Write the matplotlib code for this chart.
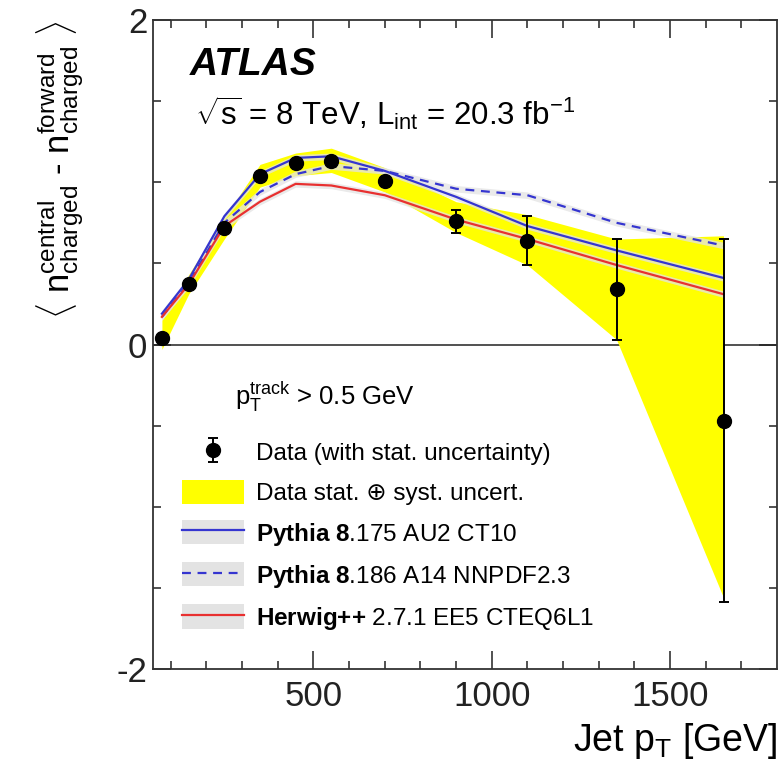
import matplotlib
matplotlib.use("Agg")
import matplotlib.pyplot as plt
from matplotlib.patches import Patch
from matplotlib.lines import Line2D
import numpy as np

plt.rcParams['font.family'] = ['Liberation Sans', 'DejaVu Sans']
plt.rcParams['mathtext.fontset'] = 'custom'
plt.rcParams['mathtext.rm'] = 'Liberation Sans'
plt.rcParams['mathtext.it'] = 'Liberation Sans:italic'
plt.rcParams['mathtext.bf'] = 'Liberation Sans:bold'
plt.rcParams['axes.unicode_minus'] = False

# ---------------- data ----------------
jet_pt = [75, 150, 250, 350, 450, 550, 700, 900, 1100, 1350, 1650]
data_y = [0.04, 0.37, 0.72, 1.04, 1.12, 1.13, 1.01, 0.76, 0.64, 0.34, -0.47]
data_stat = [0.01, 0.01, 0.01, 0.01, 0.01, 0.015, 0.02, 0.07, 0.15, 0.31, 1.12]
band_up = [0.15, 0.43, 0.78, 1.11, 1.18, 1.21, 1.09, 0.88, 0.80, 0.65, 0.67]
band_lo = [-0.03, 0.31, 0.65, 0.97, 1.04, 1.06, 0.94, 0.69, 0.49, 0.03, -1.56]
pythia_au2 = [0.19, 0.40, 0.79, 1.05, 1.15, 1.16, 1.07, 0.91, 0.73, 0.58, 0.41]
pythia_a14 = [0.17, 0.38, 0.75, 0.94, 1.05, 1.10, 1.07, 0.96, 0.92, 0.75, 0.61]
herwig_ee5 = [0.17, 0.37, 0.73, 0.88, 0.99, 0.98, 0.92, 0.77, 0.65, 0.49, 0.31]
mc_unc = 0.02

labels = ["Data (with stat. uncertainty)",
          "Data stat. \u2295 syst. uncert.",
          r"$\mathbf{Pythia\ 8}$.175 AU2 CT10",
          r"$\mathbf{Pythia\ 8}$.186 A14 NNPDF2.3",
          r"$\mathbf{Herwig{+}{+}}$ 2.7.1 EE5 CTEQ6L1"]

yellow = '#ffff00'
grey = '#e3e3e3'
blue = '#3535d0'
red = '#e83030'

fig = plt.figure(figsize=(7.82, 7.77), dpi=100)
ax = fig.add_axes([153/782, 108/777, 624/782, 649/777])

x = np.array(jet_pt)
ax.fill_between(x, band_lo, band_up, color=yellow, lw=0, zorder=1)

mcs = [(pythia_au2, '-'), (pythia_a14, '--'), (herwig_ee5, '-')]
colors = [blue, blue, red]
for (vals, ls), c in zip(mcs, colors):
    v = np.array(vals)
    ax.fill_between(x, v - mc_unc, v + mc_unc, color=grey, alpha=0.75, lw=0, zorder=2)
    ax.plot(x, v, ls=ls, color=c, lw=1.6, zorder=3, dashes=(4, 3) if ls == '--' else (None, None))

eb = ax.errorbar(x, data_y, yerr=data_stat, fmt='o', color='black', ms=10,
                 elinewidth=1.4, capsize=3.5, capthick=1.4, zorder=5)

ax.axhline(0, color='#222222', lw=1.1, zorder=0.5)

ax.set_xlim(50, 1800)
ax.set_ylim(-2, 2)
ax.set_xticks([500, 1000, 1500])
ax.set_xticks(np.arange(100, 1800, 100), minor=True)
ax.set_yticks([-2, 0, 2])
ax.set_yticks(np.arange(-1.5, 2.0, 0.5), minor=True)
ax.tick_params(which='both', direction='in', top=True, right=True, width=1.1,
               labelsize=25, colors='#222222')
ax.tick_params(which='major', length=13, pad=8)
ax.tick_params(which='minor', length=6)
ax.tick_params(axis='y', which='major', pad=4)
for s in ax.spines.values():
    s.set_linewidth(1.3)
    s.set_color('#333333')

ax.set_xlabel(r"Jet $\mathrm{p}_{\mathrm{T}}$ [GeV]", fontsize=27, loc='right', labelpad=6)
ax.set_ylabel(r"$\langle$ $\mathrm{n}^{\mathrm{central}}_{\mathrm{charged}}$ - "
              r"$\mathrm{n}^{\mathrm{forward}}_{\mathrm{charged}}$ $\rangle$",
              fontsize=25, loc='top', labelpad=22)

ax.text(37/624, 1 - 55/649, "ATLAS", transform=ax.transAxes, fontsize=28,
        fontweight='bold', style='italic', ha='left', va='baseline')
ax.text(42/624, 1 - 105/649,
        r"$\sqrt{\mathrm{s}}$ = 8 TeV, $\mathrm{L}_{\mathrm{int}}$ = 20.3 fb$^{\mathrm{-1}}$",
        transform=ax.transAxes, fontsize=22.5, ha='left', va='baseline')
ax.text((235 - 153)/624, (669 - 405)/649, r"$\mathrm{p}_{\mathrm{T}}^{\mathrm{track}}$ > 0.5 GeV",
        transform=ax.transAxes, fontsize=18.5, ha='left', va='baseline')

h_band = Patch(facecolor=yellow, edgecolor='none')
h1 = (Patch(facecolor=grey, edgecolor='none'), Line2D([], [], color=blue, lw=1.6))
h2 = (Patch(facecolor=grey, edgecolor='none'), Line2D([], [], color=blue, lw=1.6, ls='--', dashes=(4, 3)))
h3 = (Patch(facecolor=grey, edgecolor='none'), Line2D([], [], color=red, lw=1.6))
leg = ax.legend([eb, h_band, h1, h2, h3], labels, loc='upper left',
                bbox_to_anchor=((182 - 153)/624, (669 - 440)/649),
                frameon=False, fontsize=17.5, borderpad=0, borderaxespad=0,
                handlelength=2.55, handleheight=1.15, labelspacing=0.61,
                handletextpad=0.5, numpoints=1)

fig.savefig("out.png", dpi=100)
